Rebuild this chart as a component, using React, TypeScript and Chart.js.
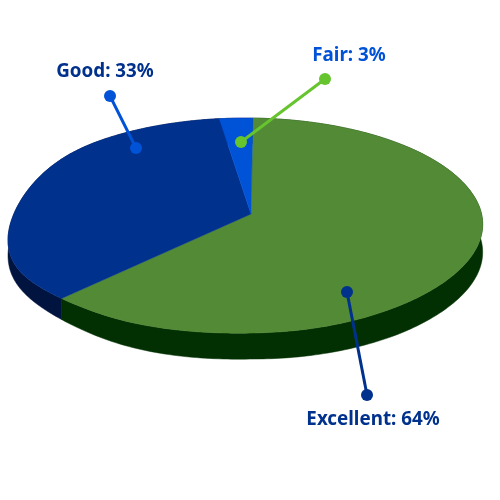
import React, { useEffect, useRef } from "react";
import { Chart, registerables } from "chart.js";

Chart.register(...registerables);

const categories = ["Excellent", "Good", "Fair"];
const values = [64, 33, 3];
const topColors = ["#528A35", "#00318C", "#0052D6"];
const wallColors = ["#023002", "#00143F", "#00143F"];
const textColors = ["#00318C", "#00318C", "#0052D6"];
const leaderColors = ["#00318C", "#0052D6", "#66C42F"];

// presentation geometry of the tilted pie
const view = { cx: 245.5, cy: 225.5, rx: 237.5, ry: 107.5, apexX: 251, apexY: 214, squash: 1.85, depth: 26 };
const callouts = [
  { inner: [347, 292], outer: [367, 395], text: [373, 420] },
  { inner: [136, 148], outer: [110, 96], text: [105, 72] },
  { inner: [241, 142], outer: [325, 79], text: [349, 56] },
];

const deg = Math.PI / 180;

function rim(theta: number): [number, number] {
  const ax = (view.apexX - view.cx) / view.rx;
  const ay = (view.apexY - view.cy) / view.ry;
  const dx = (Math.sin(theta) * view.squash) / view.rx;
  const dy = -Math.cos(theta) / view.ry;
  const a = dx * dx + dy * dy;
  const b = ax * dx + ay * dy;
  const c = ax * ax + ay * ay - 1;
  let t = (-b + Math.sqrt(b * b - a * c)) / a;
  // the source's perspective bulges the lower left and flattens the lower right
  const th = ((theta % (2 * Math.PI)) + 2 * Math.PI) % (2 * Math.PI);
  if (th > 175 * deg && th < 265 * deg) t *= 1 + 0.022 * Math.cos(2 * (th - 220 * deg)) ** 2;
  if (th > 85 * deg && th < 175 * deg) t *= 1 - 0.012 * Math.cos(2 * (th - 130 * deg)) ** 2;
  const x = view.apexX + t * Math.sin(theta) * view.squash;
  let y = view.apexY - t * Math.cos(theta);
  if (x < 110) y += 14 * ((110 - x) / 101) ** 3;
  return [x, y];
}

function depthAt(x: number) {
  if (x >= 250) return view.depth + 2 * Math.min(1, (x - 250) / 150);
  return view.depth - 9 * ((250 - x) / 230) ** 3;
}

const pie3d = {
  id: "pie3d",
  beforeDatasetDraw(chart: any) {
    const ctx = chart.ctx;
    const arcs = chart.getDatasetMeta(0).data;
    const rims = arcs.map((arc: any) => {
      const pts: [number, number][] = [];
      const n = 200;
      for (let i = 0; i <= n; i++) {
        pts.push(rim(arc.startAngle + Math.PI / 2 + ((arc.endAngle - arc.startAngle) * i) / n));
      }
      return pts;
    });
    ctx.save();
    rims.forEach((pts: [number, number][], i: number) => {
      ctx.beginPath();
      pts.forEach((p, j) => (j ? ctx.lineTo(p[0], p[1]) : ctx.moveTo(p[0], p[1])));
      [...pts].reverse().forEach((p) => ctx.lineTo(p[0], p[1] + depthAt(p[0])));
      ctx.closePath();
      ctx.fillStyle = wallColors[i];
      ctx.strokeStyle = wallColors[i];
      ctx.lineWidth = 0.5;
      ctx.fill();
      ctx.stroke();
    });
    rims.forEach((pts: [number, number][], i: number) => {
      ctx.beginPath();
      ctx.moveTo(view.apexX, view.apexY);
      pts.forEach((p) => ctx.lineTo(p[0], p[1]));
      ctx.closePath();
      ctx.fillStyle = topColors[i];
      ctx.strokeStyle = topColors[i];
      ctx.lineWidth = 0.5;
      ctx.fill();
      ctx.stroke();
    });
    ctx.restore();
    return false;
  },
  afterDatasetsDraw(chart: any) {
    const ctx = chart.ctx;
    ctx.save();
    callouts.forEach((c, i) => {
      ctx.strokeStyle = leaderColors[i];
      ctx.fillStyle = leaderColors[i];
      ctx.lineWidth = 3;
      ctx.beginPath();
      ctx.moveTo(c.inner[0], c.inner[1]);
      ctx.lineTo(c.outer[0], c.outer[1]);
      ctx.stroke();
      [c.inner, c.outer].forEach((p) => {
        ctx.beginPath();
        ctx.arc(p[0], p[1], 6, 0, Math.PI * 2);
        ctx.fill();
      });
      ctx.fillStyle = textColors[i];
      ctx.font = "bold 18.8px 'Noto Sans'";
      ctx.textAlign = "center";
      ctx.textBaseline = "middle";
      ctx.fillText(`${categories[i]}: ${values[i]}%`, c.text[0], c.text[1]);
    });
    ctx.restore();
  },
};

export default function App() {
  const ref = useRef<HTMLCanvasElement>(null);
  useEffect(() => {
    const chart = new Chart(ref.current!, {
      type: "pie",
      data: {
        labels: categories,
        datasets: [{ data: values, backgroundColor: topColors, borderWidth: 0 }],
      },
      options: {
        animation: false,
        responsive: false,
        rotation: 0.6,
        plugins: { legend: { display: false }, tooltip: { enabled: false } },
      },
      plugins: [pie3d],
    });
    return () => chart.destroy();
  }, []);
  return (
    <canvas
      ref={ref}
      width={500}
      height={500}
      style={{ position: "fixed", left: 0, top: 0, width: 500, height: 500 }}
    />
  );
}
